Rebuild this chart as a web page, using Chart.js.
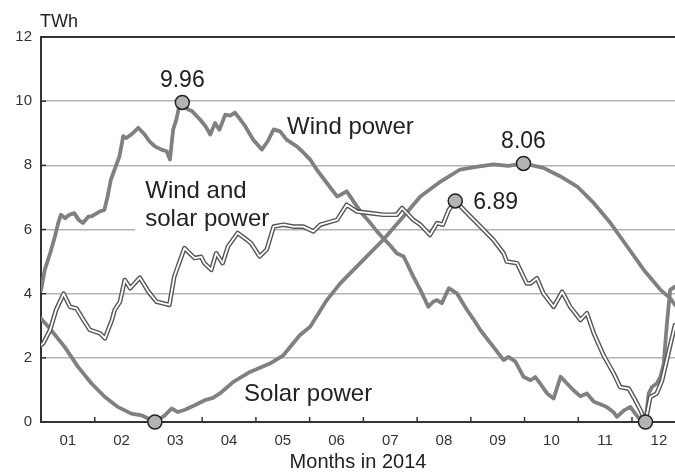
<!DOCTYPE html>
<html>
<head>
<meta charset="utf-8">
<title>Wind and solar power 2014</title>
<script src="https://cdn.jsdelivr.net/npm/chart.js@4.4.1/dist/chart.umd.min.js"></script>
<style>
  html, body { margin: 0; padding: 0; background: #fff; }
  #wrap { width: 675px; height: 472px; }
</style>
</head>
<body>
<div id="wrap"><canvas id="powerChart" width="675" height="472"></canvas></div>
<script>
// x values are months since 1 Jan 2014 (0 = start of Jan), y values in TWh
const monthLabels = ['01', '02', '03', '04', '05', '06', '07', '08', '09', '10', '11', '12'];
const yTicks = [0, 2, 4, 6, 8, 10, 12];

const windMonths = [0.00, 0.07, 0.17, 0.26, 0.32, 0.37, 0.45, 0.52, 0.62, 0.70, 0.78, 0.88, 0.95, 1.09, 1.18, 1.24,
  1.30, 1.37, 1.46, 1.53, 1.59, 1.68, 1.81, 1.93, 2.02, 2.12, 2.24, 2.34, 2.40, 2.46, 2.52, 2.58, 2.63, 2.74, 2.81,
  2.96, 3.07, 3.15, 3.24, 3.32, 3.43, 3.52, 3.61, 3.70, 3.80, 3.95, 4.11, 4.22, 4.33, 4.45, 4.57, 4.76, 4.86, 5.01,
  5.13, 5.32, 5.51, 5.60, 5.69, 5.88, 6.00, 6.13, 6.25, 6.37, 6.50, 6.62, 6.75, 6.93, 7.06, 7.21, 7.30, 7.37, 7.46,
  7.59, 7.74, 7.93, 8.05, 8.18, 8.30, 8.42, 8.61, 8.70, 8.83, 8.98, 9.11, 9.20, 9.29, 9.42, 9.54, 9.67, 9.79, 9.91,
  10.04, 10.16, 10.29, 10.41, 10.53, 10.66, 10.72, 10.85, 10.97, 11.06, 11.16, 11.25, 11.31, 11.37, 11.46, 11.53,
  11.59, 11.65, 11.71, 11.80];
const windTWh = [4.10, 4.74, 5.26, 5.78, 6.20, 6.46, 6.35, 6.45, 6.51, 6.30, 6.20, 6.40, 6.42, 6.56, 6.61, 7.03,
  7.55, 7.87, 8.28, 8.91, 8.85, 8.96, 9.17, 8.96, 8.75, 8.59, 8.49, 8.44, 8.18, 9.12, 9.43, 9.90, 9.96, 9.74, 9.69,
  9.43, 9.20, 8.96, 9.32, 9.11, 9.58, 9.55, 9.64, 9.45, 9.22, 8.80, 8.49, 8.75, 9.12, 9.06, 8.80, 8.59, 8.44, 8.18,
  7.87, 7.45, 7.03, 7.10, 7.19, 6.72, 6.45, 6.20, 5.95, 5.73, 5.50, 5.26, 5.16, 4.53, 4.12, 3.59, 3.75, 3.80, 3.70,
  4.17, 4.01, 3.49, 3.20, 2.86, 2.60, 2.34, 1.93, 2.03, 1.88, 1.41, 1.30, 1.40, 1.20, 0.89, 0.73, 1.41, 1.20, 0.99,
  0.80, 0.89, 0.63, 0.55, 0.47, 0.30, 0.16, 0.36, 0.47, 0.26, 0.05, 0.00, 0.89, 1.09, 1.20, 1.41,
  1.82, 3.07, 4.12, 4.22];

const solarMonths = [0.00, 0.19, 0.44, 0.69, 0.94, 1.19, 1.43, 1.68, 1.87, 2.00, 2.12, 2.30, 2.43, 2.55, 2.68, 2.86,
  3.05, 3.20, 3.33, 3.58, 3.89, 4.26, 4.51, 4.82, 5.01, 5.32, 5.57, 5.94, 6.37, 6.75, 7.06, 7.40, 7.80, 8.10, 8.42,
  8.70, 8.98, 9.35, 9.66, 9.98, 10.29, 10.60, 10.91, 11.22, 11.53, 11.71, 11.80];
const solarTWh = [3.23, 2.86, 2.34, 1.72, 1.20, 0.78, 0.47, 0.26, 0.21, 0.10, 0.00, 0.20, 0.42, 0.31, 0.38, 0.52,
  0.68, 0.75, 0.89, 1.25, 1.56, 1.82, 2.08, 2.71, 2.97, 3.80, 4.32, 4.95, 5.68, 6.41, 7.03, 7.45, 7.87, 7.95, 8.03,
  7.98, 8.06, 7.92, 7.66, 7.34, 6.82, 6.20, 5.47, 4.74, 4.12, 3.86, 3.65];

const bothMonths = [0.00, 0.04, 0.17, 0.28, 0.42, 0.54, 0.66, 0.79, 0.91, 1.10, 1.19, 1.32, 1.37, 1.47, 1.56, 1.66,
  1.84, 2.00, 2.15, 2.27, 2.39, 2.48, 2.67, 2.74, 2.86, 2.98, 3.04, 3.17, 3.26, 3.38, 3.48, 3.66, 3.79, 3.91, 4.07,
  4.20, 4.33, 4.51, 4.70, 4.88, 5.07, 5.20, 5.51, 5.69, 5.88, 6.13, 6.37, 6.62, 6.72, 6.93, 7.06, 7.24, 7.37, 7.48,
  7.59, 7.71, 7.93, 8.18, 8.42, 8.61, 8.67, 8.86, 9.04, 9.11, 9.23, 9.35, 9.54, 9.70, 9.85, 10.04, 10.16, 10.29,
  10.47, 10.66, 10.78, 10.94, 11.06, 11.16, 11.25, 11.34, 11.46, 11.56, 11.69, 11.80];
const bothTWh = [2.40, 2.45, 2.87, 3.49, 4.00, 3.59, 3.54, 3.18, 2.87, 2.76, 2.61, 3.18, 3.49, 3.75, 4.43, 4.17,
  4.50, 4.06, 3.75, 3.70, 3.65, 4.53, 5.42, 5.30, 5.11, 5.15, 4.95, 4.74, 5.26, 4.95, 5.47, 5.89, 5.73, 5.57, 5.16,
  5.37, 6.09, 6.15, 6.09, 6.09, 5.94, 6.15, 6.30, 6.77, 6.56, 6.51, 6.46, 6.46, 6.67, 6.30, 6.15, 5.83, 6.20, 6.15,
  6.61, 6.89, 6.51, 6.09, 5.68, 5.26, 5.00, 4.95, 4.32, 4.32, 4.48, 4.01, 3.59, 4.06, 3.59, 3.18, 3.39, 2.76,
  2.08, 1.51, 1.09, 1.04, 0.68, 0.36, 0.00, 0.78, 0.89, 1.30, 2.24, 3.02];

// highlighted extremes
const markerMonths = [2.63, 8.98, 7.71, 2.12, 11.25];
const markerTWh = [9.96, 8.06, 6.89, 0, 0];
const markerText = ['9.96', '8.06', '6.89', '', ''];
const markerSide = ['above', 'above', 'right', '', ''];

const FONT = "'Liberation Sans', Arial, sans-serif";
const toPoints = (xs, ys) => xs.map((m, i) => ({ x: m, y: ys[i] }));

function drawLine(ctx, x1, y1, x2, y2) {
  ctx.beginPath();
  ctx.moveTo(x1, y1);
  ctx.lineTo(x2, y2);
  ctx.stroke();
}

// tick marks, white box and series names (under the lines)
const underLayer = {
  id: 'underLayer',
  beforeDatasetsDraw(chart) {
    const { ctx, chartArea, scales: { x, y } } = chart;
    ctx.save();
    ctx.strokeStyle = '#333';
    ctx.lineWidth = 1.5;
    for (let m = 1; m <= 11; m++) {
      const px = x.getPixelForValue(m);
      drawLine(ctx, px, chartArea.bottom, px, chartArea.bottom - 5);
    }
    yTicks.forEach(v => {
      const py = y.getPixelForValue(v);
      drawLine(ctx, chartArea.left, py, chartArea.left + 5, py);
    });

    ctx.font = '24px ' + FONT;
    ctx.fillStyle = '#222';
    ctx.textAlign = 'left';
    ctx.textBaseline = 'alphabetic';

    // "Wind and solar power" sits on a white box that hides the 6 TWh gridline
    const lx = x.getPixelForValue(1.94);
    const ly1 = y.getPixelForValue(6.99);
    const ly2 = y.getPixelForValue(6.10);
    const w = ctx.measureText('solar power').width;
    ctx.fillStyle = '#fff';
    ctx.fillRect(lx - 10, ly1 - 20, w + 13, ly2 - ly1 + 30);
    ctx.fillStyle = '#222';
    ctx.fillText('Wind and', lx, ly1);
    ctx.fillText('solar power', lx, ly2);

    ctx.fillText('Wind power', x.getPixelForValue(4.58), y.getPixelForValue(8.99));
    ctx.fillText('Solar power', x.getPixelForValue(3.78), y.getPixelForValue(0.65));

    ctx.font = '18px ' + FONT;
    ctx.fillText('TWh', chartArea.left - 1, chartArea.top - 10);
    ctx.restore();
  },
  afterDatasetsDraw(chart) {
    const { ctx, scales: { x, y } } = chart;
    ctx.save();
    ctx.font = '23px ' + FONT;
    ctx.fillStyle = '#222';
    ctx.textBaseline = 'alphabetic';
    markerText.forEach((t, i) => {
      if (!t) return;
      const px = x.getPixelForValue(markerMonths[i]);
      const py = y.getPixelForValue(markerTWh[i]);
      if (markerSide[i] === 'above') {
        ctx.textAlign = 'center';
        ctx.fillText(t, px, py - 15);
      } else {
        ctx.textAlign = 'left';
        ctx.fillText(t, px + 18, py + 8);
      }
    });
    ctx.restore();
  }
};

const lineBase = { pointRadius: 0, tension: 0, fill: false, borderJoinStyle: 'round', borderCapStyle: 'round' };

new Chart(document.getElementById('powerChart'), {
  type: 'line',
  data: {
    datasets: [
      {
        type: 'scatter', label: 'Extremes', data: toPoints(markerMonths, markerTWh), order: 0, clip: false,
        pointRadius: 7, pointBackgroundColor: '#b3b3b3', pointBorderColor: '#222', pointBorderWidth: 1.5, showLine: false
      },
      { ...lineBase, label: 'Wind and solar power (inner)', data: toPoints(bothMonths, bothTWh), order: 1, borderColor: '#fff', borderWidth: 1.8 },
      { ...lineBase, label: 'Wind and solar power', data: toPoints(bothMonths, bothTWh), order: 2, borderColor: '#555', borderWidth: 4.6 },
      { ...lineBase, label: 'Solar power', data: toPoints(solarMonths, solarTWh), order: 3, borderColor: '#808080', borderWidth: 3.8 },
      { ...lineBase, label: 'Wind power', data: toPoints(windMonths, windTWh), order: 4, borderColor: '#808080', borderWidth: 3.8 }
    ]
  },
  options: {
    responsive: false,
    animation: false,
    layout: { autoPadding: false, padding: { top: 37, right: 0, bottom: 0, left: 0 } },
    plugins: { legend: { display: false }, tooltip: { enabled: false } },
    scales: {
      x: {
        type: 'linear',
        min: 0,
        max: 11.8,
        afterBuildTicks: s => { s.ticks = monthLabels.map((l, i) => ({ value: i + 0.5 })); },
        afterFit: s => { s.height = 50; s.paddingLeft = 0; s.paddingRight = 0; },
        grid: { display: false },
        border: { display: true, color: '#333', width: 2 },
        ticks: {
          autoSkip: false, maxRotation: 0, padding: 2, color: '#333',
          font: { family: FONT, size: 15 },
          callback: (v, i) => monthLabels[i]
        },
        title: {
          display: true, text: 'Months in 2014', color: '#222',
          font: { family: FONT, size: 20, lineHeight: 1 }, padding: { top: 0, bottom: 0 }
        }
      },
      y: {
        min: 0,
        max: 12,
        afterFit: s => { s.width = 41; },
        afterBuildTicks: s => { s.ticks = yTicks.map(v => ({ value: v })); },
        grid: {
          drawTicks: false,
          color: c => c.tick.value === 12 ? '#333' : (c.tick.value === 0 ? 'rgba(0,0,0,0)' : '#b3b3b3'),
          lineWidth: c => c.tick.value === 12 ? 2 : 1.5
        },
        border: { display: true, color: '#333', width: 2 },
        ticks: { padding: 9, color: '#333', font: { family: FONT, size: 15 } }
      }
    }
  },
  plugins: [underLayer]
});
</script>
</body>
</html>
